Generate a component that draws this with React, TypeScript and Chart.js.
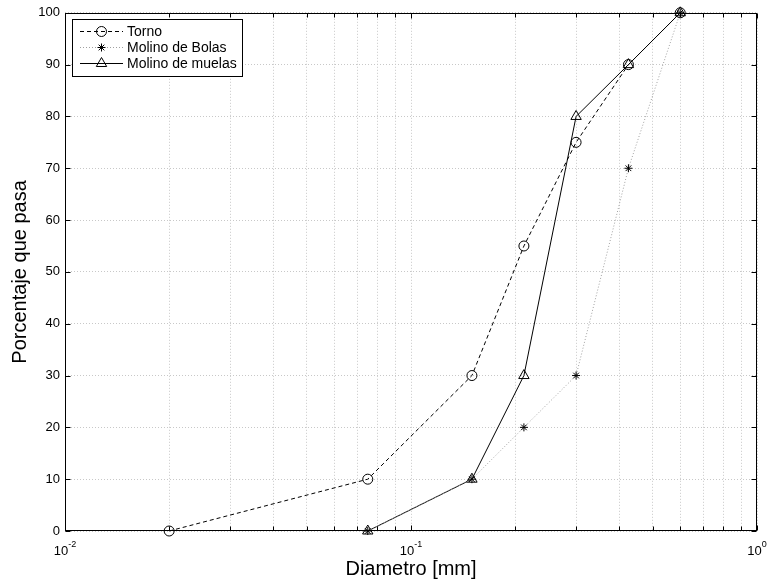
import React, { useEffect, useRef } from "react";
import { Chart, registerables } from "chart.js";
import { drawPoint } from "chart.js/helpers";

Chart.register(...registerables);

const tornoX = [0.02, 0.075, 0.15, 0.212, 0.3, 0.425, 0.6];
const tornoY = [0, 10, 30, 55, 75, 90, 100];
const bolasX = [0.075, 0.15, 0.212, 0.3, 0.425, 0.6];
const bolasY = [0, 10, 20, 30, 70, 100];
const muelasX = [0.075, 0.15, 0.212, 0.3, 0.425, 0.6];
const muelasY = [0, 10, 30, 80, 90, 100];

const xTickValues = [
  0.01, 0.02, 0.03, 0.04, 0.05, 0.06, 0.07, 0.08, 0.09,
  0.1, 0.2, 0.3, 0.4, 0.5, 0.6, 0.7, 0.8, 0.9, 1,
];
const xMajorTicks = [0.01, 0.1, 1];
const xMajorExponents = ["-2", "-1", "0"];

const FONT = "'Liberation Sans', Arial, Helvetica, sans-serif";

const zip = (xs: number[], ys: number[]) => xs.map((x, i) => ({ x, y: ys[i] }));

const framePlugin = {
  id: "frame",
  afterDraw(chart: any) {
    const { ctx, chartArea } = chart;
    const l = Math.round(chartArea.left) + 0.5;
    const r = Math.round(chartArea.right) - 0.5;
    const t = Math.round(chartArea.top) + 0.5;
    const b = Math.round(chartArea.bottom) - 0.5;
    const xs = chart.scales.x;
    const ys = chart.scales.y;
    ctx.save();
    ctx.strokeStyle = "#000";
    ctx.lineWidth = 1;
    ctx.setLineDash([]);
    ctx.strokeRect(l, t, r - l, b - t);
    ctx.beginPath();
    for (const v of xTickValues) {
      const px = Math.round(xs.getPixelForValue(v)) + 0.5;
      const len = xMajorTicks.includes(v) ? 5 : 4;
      ctx.moveTo(px, b);
      ctx.lineTo(px, b - len);
      ctx.moveTo(px, t);
      ctx.lineTo(px, t + len);
    }
    for (const tk of ys.ticks) {
      const py = Math.round(ys.getPixelForValue(tk.value)) + 0.5;
      ctx.moveTo(l, py);
      ctx.lineTo(l + 5, py);
      ctx.moveTo(r, py);
      ctx.lineTo(r - 5, py);
    }
    ctx.stroke();

    // x tick labels with superscript exponents
    ctx.fillStyle = "#000";
    ctx.textBaseline = "alphabetic";
    ctx.textAlign = "left";
    xMajorTicks.forEach((v, i) => {
      const px = xs.getPixelForValue(v);
      ctx.font = `13px ${FONT}`;
      const wb = ctx.measureText("10").width;
      ctx.font = `9px ${FONT}`;
      const we = ctx.measureText(xMajorExponents[i]).width;
      const x0 = px - (wb + we) / 2;
      ctx.font = `13px ${FONT}`;
      ctx.fillText("10", x0, 555);
      ctx.font = `9px ${FONT}`;
      ctx.fillText(xMajorExponents[i], x0 + wb, 547);
    });

    // legend
    const lx = 72.5, ly = 19.5, lw = 170, lh = 57;
    ctx.fillStyle = "#fff";
    ctx.fillRect(lx, ly, lw, lh);
    ctx.strokeRect(lx, ly, lw, lh);
    chart.data.datasets.forEach((ds: any, i: number) => {
      const y = 31.5 + i * 16;
      ctx.save();
      ctx.strokeStyle = ds.borderColor;
      ctx.lineWidth = 1;
      ctx.setLineDash(ds.borderDash || []);
      ctx.beginPath();
      ctx.moveTo(80, y);
      ctx.lineTo(123, y);
      ctx.stroke();
      ctx.setLineDash([]);
      ctx.strokeStyle = ds.pointBorderColor;
      ctx.fillStyle = "rgba(0,0,0,0)";
      drawPoint(ctx, { pointStyle: ds.pointStyle, radius: ds.pointRadius, rotation: 0, borderWidth: 1 }, 101.5, y);
      ctx.restore();
      ctx.fillStyle = "#000";
      ctx.font = `14px ${FONT}`;
      ctx.textBaseline = "middle";
      ctx.fillText(ds.label, 127, y + 0.5);
    });
    ctx.restore();
  },
};

export default function App() {
  const ref = useRef<HTMLCanvasElement>(null);
  useEffect(() => {
    document.body.style.margin = "0";
    const chart = new Chart(ref.current!, {
      type: "scatter",
      data: {
        datasets: [
          {
            label: "Torno",
            data: zip(tornoX, tornoY),
            showLine: true,
            borderColor: "#000",
            borderWidth: 1,
            borderDash: [4, 3],
            pointStyle: "circle",
            pointRadius: 5,
            pointBorderColor: "#000",
            pointBackgroundColor: "rgba(0,0,0,0)",
            pointBorderWidth: 1,
            clip: false,
          } as any,
          {
            label: "Molino de Bolas",
            data: zip(bolasX, bolasY),
            showLine: true,
            borderColor: "#a0a0a0",
            borderWidth: 1,
            borderDash: [1, 2],
            pointStyle: "star",
            pointRadius: 4,
            pointBorderColor: "#000",
            pointBackgroundColor: "rgba(0,0,0,0)",
            pointBorderWidth: 1,
            clip: false,
          },
          {
            label: "Molino de muelas",
            data: zip(muelasX, muelasY),
            showLine: true,
            borderColor: "#000",
            borderWidth: 1,
            pointStyle: "triangle",
            pointRadius: 6,
            pointBorderColor: "#000",
            pointBackgroundColor: "rgba(0,0,0,0)",
            pointBorderWidth: 1,
            clip: false,
          },
        ],
      },
      options: {
        animation: false,
        responsive: false,
        devicePixelRatio: 1,
        layout: { padding: { top: 11, right: 14, left: 0, bottom: 0 } },
        plugins: { legend: { display: false }, tooltip: { enabled: false } },
        scales: {
          x: {
            type: "logarithmic",
            min: 0.01,
            max: 1,
            afterBuildTicks: (s: any) => {
              s.ticks = xTickValues.map((v) => ({ value: v, major: xMajorTicks.includes(v) }));
            },
            afterFit: (s: any) => {
              s.height = 51;
            },
            ticks: { display: false },
            grid: { color: "#c8c8c8", lineWidth: 1, drawTicks: false },
            border: { display: false, dash: [1, 2] },
            title: {
              display: true,
              text: "Diametro [mm]",
              color: "#000",
              font: { family: FONT, size: 20 },
              padding: { top: 0, bottom: 1 },
            },
          },
          y: {
            min: 0,
            max: 100,
            afterFit: (s: any) => {
              s.width = 65;
            },
            ticks: {
              stepSize: 10,
              color: "#000",
              font: { family: FONT, size: 13 },
              padding: 5,
            },
            grid: { color: "#c8c8c8", lineWidth: 1, drawTicks: false },
            border: { display: false, dash: [1, 2] },
            title: {
              display: true,
              text: "Porcentaje que pasa",
              color: "#000",
              font: { family: FONT, size: 20 },
              padding: { top: 8, bottom: 0 },
            },
          },
        },
      },
      plugins: [framePlugin],
    });
    return () => chart.destroy();
  }, []);
  return (
    <div style={{ width: 771, height: 582 }}>
      <canvas ref={ref} width={771} height={582} />
    </div>
  );
}
